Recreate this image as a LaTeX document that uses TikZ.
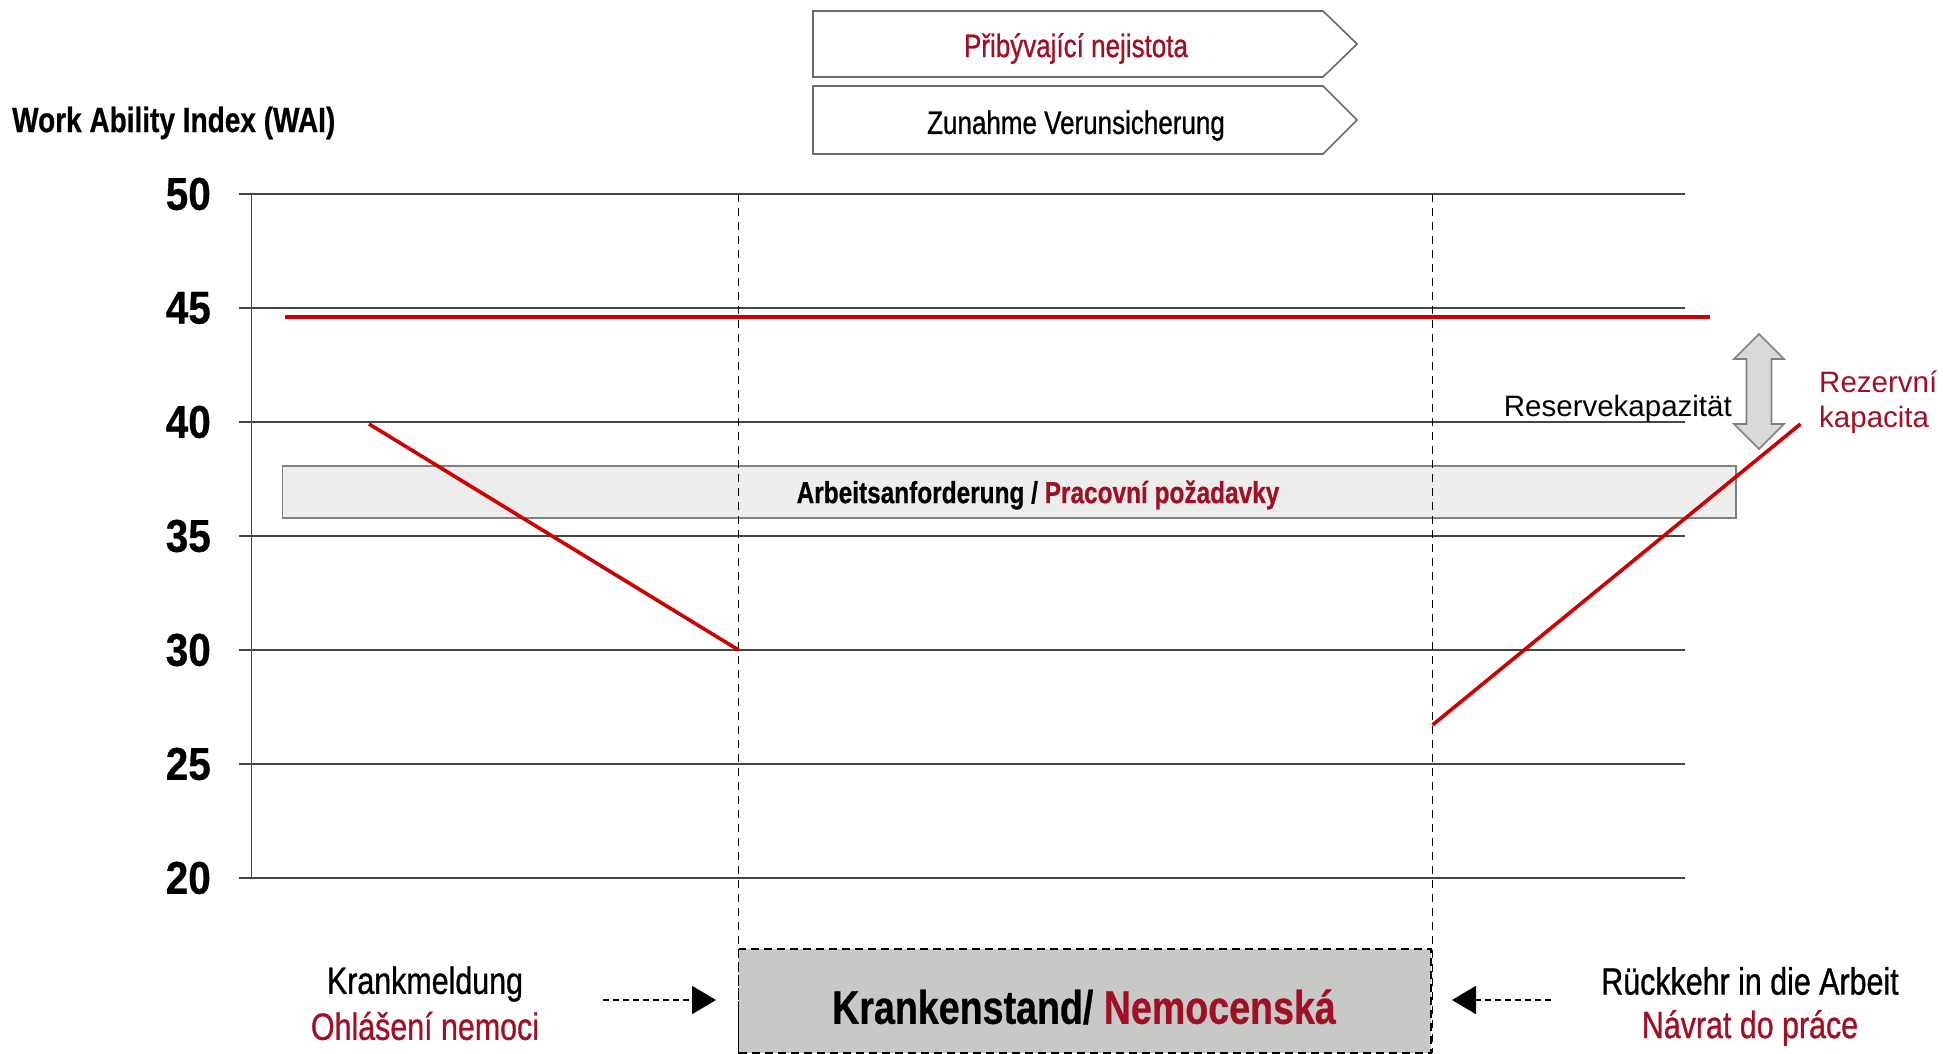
\documentclass[tikz,border=0pt]{standalone}
\usepackage{fontspec}
\setmainfont{Liberation Sans}
\newfontfamily\condfont{Liberation Sans}[FakeStretch=0.8, FakeBold=0.8]
\newfontfamily\condbold{Liberation Sans Bold}[FakeStretch=0.8, FakeBold=0.6]
\newfontfamily\numfont{Liberation Sans Bold}[FakeStretch=0.88, FakeBold=0.6]
\usetikzlibrary{arrows.meta}
\definecolor{txtred}{RGB}{160,16,36}
\definecolor{linered}{RGB}{204,0,0}
\definecolor{gridgray}{RGB}{70,70,70}
\definecolor{bandfill}{RGB}{237,237,237}
\definecolor{bandline}{RGB}{128,128,128}
\definecolor{boxfill}{RGB}{200,201,199}
\definecolor{arrowfill}{RGB}{217,217,217}
\newcommand{\fs}[1]{\fontsize{#1}{1.2\dimexpr #1pt\relax}\selectfont}
\tikzset{
  gridline/.style={draw=gridgray, line width=1.4pt},
  wailine/.style={draw=linered, line width=3.6pt},
  phaseline/.style={draw=black, line width=1.8pt, dash pattern=on 8pt off 6pt},
  ylabel/.style={anchor=east, inner sep=0pt, font=\numfont\fs{46}},
  condtext/.style={inner sep=0pt, font=\condfont\fs{38}},
  banner/.style={draw=gridgray!80, fill=white, line width=1.6pt, line join=miter},
  bannertext/.style={inner sep=0pt, font=\condfont\fs{32.5}},
  eventarrow/.style={draw=black, line width=2pt, dash pattern=on 6pt off 4pt,
    -{Triangle[length=24pt,width=28pt]}},
}
\begin{document}
\begin{tikzpicture}[x=1pt,y=-1pt]
\useasboundingbox (0,0) rectangle (1943,1054);

% horizontal grid and axis labels
\foreach \v in {50,45,40,35,30,25,20} {
  \pgfmathsetmacro{\yy}{194+(50-\v)*22.8}
  \draw[gridline] (239,\yy) -- (1685,\yy);
  \node[ylabel] (lab\v) at (211,\yy) {\v};
}
\draw[gridline] (251.5,194) -- (251.5,878);

\node[anchor=west, inner sep=0pt, font=\condbold\fs{35}] (title)
  at (12,123) {Work Ability Index (WAI)};

% work demand band
\draw[draw=bandline, fill=bandfill, line width=1.6pt] (282.5,466) rectangle (1736,518);
\node[inner sep=0pt, font=\condbold\fs{30.5}] (demand) at (1038,495)
  {Arbeitsanforderung / \textcolor{txtred}{Pracovní požadavky}};

% sick-leave box
\draw[fill=boxfill, draw=black, line width=1.6pt, dash pattern=on 8pt off 5pt]
  (738.5,949) rectangle (1431,1053);
\node[inner sep=0pt, font=\condbold\fs{47}] (leave) at (1084,1007)
  {Krankenstand/ \textcolor{txtred}{Nemocenská}};

% phase boundaries
\draw[phaseline] (738.5,194) -- (738.5,1053);
\draw[phaseline] (1432.5,194) -- (1432.5,1053);

% WAI courses
\draw[wailine] (285,317) -- (1710,317);
\draw[wailine] (369,424) -- (738.5,650);
\draw[wailine] (1432.5,725) -- (1800.5,424);

% reserve capacity double arrow
\draw[draw=bandline, fill=arrowfill, line width=1.6pt, line join=miter]
  (1759,334) -- (1784,359) -- (1771.5,359) -- (1771.5,424) -- (1784,424)
  -- (1759,449) -- (1734,424) -- (1746.5,424) -- (1746.5,359) -- (1734,359) -- cycle;
\node[anchor=base east, inner sep=0pt, font=\fs{29.5}] (reserve) at (1732,416) {Reservekapazität};
\node[anchor=west, align=left, inner sep=0pt, text=txtred, font=\fontsize{29.5}{35}\selectfont]
  (rezerva) at (1819,402.5) {Rezervní\\kapacita};

% banners
\draw[banner] (813,11) -- (1323,11) -- (1357,44) -- (1323,77) -- (813,77) -- cycle;
\node[bannertext, text=txtred] (uncert) at (1076,48.5) {Přibývající nejistota};
\draw[banner] (813,86) -- (1323,86) -- (1357,120) -- (1323,154) -- (813,154) -- cycle;
\node[bannertext] (zunahme) at (1076,125.5) {Zunahme Verunsicherung};

% sick note and return to work
\node[condtext] (krank) at (425,984) {Krankmeldung};
\node[condtext, text=txtred] (ohlas) at (425,1026) {Ohlášení nemoci};
\node[condtext] (rueck) at (1750,981) {Rückkehr in die Arbeit};
\node[condtext, text=txtred] (navrat) at (1750,1028) {Návrat do práce};
\coordinate (krankend) at (603,1000);
\coordinate (leavein) at (716,1000);
\coordinate (rueckend) at (1551,1000);
\coordinate (leaveout) at (1452,1000);
\draw[eventarrow] (krankend) -- (leavein);
\draw[eventarrow] (rueckend) -- (leaveout);
\end{tikzpicture}
\end{document}
